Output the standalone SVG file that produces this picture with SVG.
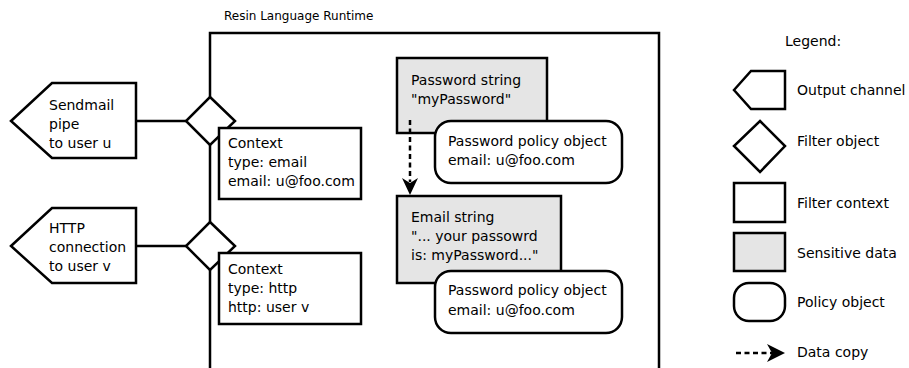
<svg xmlns="http://www.w3.org/2000/svg" width="909" height="368" viewBox="0 0 909 368">
<style>
  .s { stroke: #000; stroke-width: 2.5; fill: #fff; stroke-linejoin: miter; }
  .g { fill: #e5e5e5; }
  .t { font-family: "DejaVu Sans", "Liberation Sans", sans-serif; font-size: 14px; fill: #000; }
  .ln { stroke: #000; stroke-width: 2.5; fill: none; }
  .dash { stroke: #000; stroke-width: 2.5; fill: none; stroke-dasharray: 5 3.5; }
</style>
<rect x="0" y="0" width="909" height="368" fill="#fff"/>

<g id="runtime">
  <path class="ln" d="M210,370 V33 H659 V370"/>
  <text class="t" x="224" y="20" style="font-size:12px">Resin Language Runtime</text>
</g>

<g id="connectors">
  <line class="ln" x1="136" y1="121" x2="186" y2="121"/>
  <line class="ln" x1="136" y1="246" x2="186" y2="246"/>
</g>

<g id="sendmail">
  <polygon class="s" points="11,121 52,83 136,83 136,158 52,158"/>
  <text class="t" x="49" y="110">Sendmail</text>
  <text class="t" x="49" y="129">pipe</text>
  <text class="t" x="49" y="148">to user u</text>
</g>

<g id="http">
  <polygon class="s" points="11,246 52,208 136,208 136,283 52,283"/>
  <text class="t" x="49" y="233">HTTP</text>
  <text class="t" x="49" y="252">connection</text>
  <text class="t" x="49" y="271">to user v</text>
</g>

<g id="filter1">
  <polygon class="s" points="210,97 235,121 210,145 186,121"/>
</g>
<g id="filter2">
  <polygon class="s" points="210,222 235,246 210,270 186,246"/>
</g>

<g id="context1">
  <rect class="s" x="219" y="128" width="142" height="71"/>
  <text class="t" x="228" y="148">Context</text>
  <text class="t" x="228" y="167">type: email</text>
  <text class="t" x="228" y="186">email: u@foo.com</text>
</g>

<g id="context2">
  <rect class="s" x="219" y="253" width="142" height="71"/>
  <text class="t" x="228" y="274">Context</text>
  <text class="t" x="228" y="293">type: http</text>
  <text class="t" x="228" y="312">http: user v</text>
</g>

<g id="password">
  <rect class="s g" x="397" y="58" width="150" height="75"/>
  <text class="t" x="411" y="85">Password string</text>
  <text class="t" x="411" y="104">"myPassword"</text>
</g>

<g id="email">
  <rect class="s g" x="397" y="196" width="164" height="87"/>
  <text class="t" x="411" y="222">Email string</text>
  <text class="t" x="411" y="241">"... your passowrd</text>
  <text class="t" x="411" y="260">is: myPassword..."</text>
</g>

<g id="copy-arrow">
  <line class="dash" x1="410" y1="120" x2="410" y2="182"/>
  <path d="M410,195 L402,178 L410,183 L418,178 Z" fill="#000"/>
</g>

<g id="policy1">
  <rect class="s" x="435" y="121" width="187" height="62" rx="16"/>
  <text class="t" x="448" y="146">Password policy object</text>
  <text class="t" x="448" y="165">email: u@foo.com</text>
</g>

<g id="policy2">
  <rect class="s" x="435" y="271" width="187" height="62" rx="16"/>
  <text class="t" x="448" y="295">Password policy object</text>
  <text class="t" x="448" y="315">email: u@foo.com</text>
</g>

<g id="legend">
  <text class="t" x="785" y="46">Legend:</text>
  <polygon class="s" points="734,90 751,71 785,71 785,109 751,109"/>
  <text class="t" x="797" y="95">Output channel</text>
  <polygon class="s" points="760,121 785,146 760,172 734,146"/>
  <text class="t" x="797" y="146">Filter object</text>
  <rect class="s" x="734" y="183" width="51" height="39"/>
  <text class="t" x="797" y="208">Filter context</text>
  <rect class="s g" x="734" y="233" width="51" height="38"/>
  <text class="t" x="797" y="258">Sensitive data</text>
  <rect class="s" x="734" y="283" width="51" height="38" rx="15"/>
  <text class="t" x="797" y="307">Policy object</text>
  <line class="dash" x1="736" y1="353" x2="772" y2="353"/>
  <path d="M785,353 L767,344 L772,353 L767,362 Z" fill="#000"/>
  <text class="t" x="797" y="357">Data copy</text>
</g>
</svg>
